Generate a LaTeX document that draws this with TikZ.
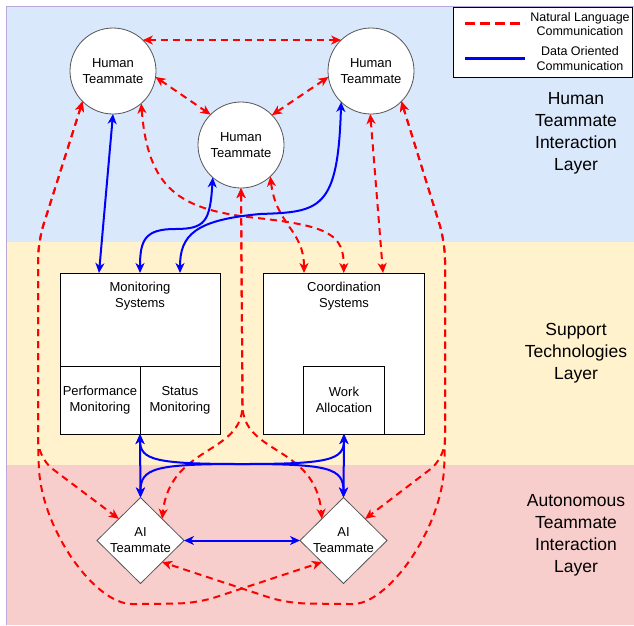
\documentclass[tikz,border=0pt]{standalone}
\usepackage{fontspec}
\setmainfont{Liberation Sans}
\usetikzlibrary{arrows.meta,shapes.geometric,calc}
\definecolor{bandblue}{HTML}{DAE8FC}
\definecolor{bandyellow}{HTML}{FFF2CC}
\definecolor{bandpink}{HTML}{F8CECC}
\definecolor{bandedge}{HTML}{B9A9D9}
\definecolor{shapeedge}{HTML}{555555}
\tikzset{
  tip/.tip={Stealth[length=10pt,width=9pt,inset=3pt]},
  nl/.style={draw=red, line width=2pt, dash pattern=on 7pt off 5pt, tip-tip},
  data/.style={draw=blue, line width=2pt, tip-tip},
  small/.style={font=\fontsize{13}{16}\selectfont, align=center},
  human/.style={circle, draw=shapeedge, fill=white, line width=0.8pt, minimum size=86pt, inner sep=0pt, outer sep=0pt, small},
  aishape/.style={diamond, draw=shapeedge, fill=white, line width=0.8pt, minimum width=87pt, minimum height=86pt, inner sep=0pt, outer sep=0pt},
  box/.style={rectangle, draw=black, fill=white, line width=0.8pt, inner sep=0pt, outer sep=0pt, small},
  layertext/.style={font=\fontsize{17.5}{22}\selectfont, align=center},
  legendtext/.style={font=\fontsize{12.5}{14.5}\selectfont, align=center},
}
\begin{document}
\begin{tikzpicture}[x=1pt,y=-1pt]
\useasboundingbox (0,0) rectangle (634,625);
% bands
\fill[bandblue] (6,6) rectangle (634,242);
\fill[bandyellow] (6,242) rectangle (634,465);
\fill[bandpink] (6,465) rectangle (634,625);
\draw[bandedge, line width=1pt] (6.5,625) -- (6.5,6.5) -- (634,6.5);

% layer labels
\node[layertext] (lay1) at (576,133) {Human\\Teammate\\Interaction\\Layer};
\node[layertext] (lay2) at (576,353.5) {Support\\Technologies\\Layer};
\node[layertext] (lay3) at (576,535) {Autonomous\\Teammate\\Interaction\\Layer};

% legend
\node[draw=black, fill=white, line width=0.8pt, minimum width=179pt, minimum height=70pt, inner sep=0pt] (legend) at (542.5,42) {};
\coordinate (lr1) at (465,23);
\coordinate (lr2) at (525,23);
\coordinate (lb1) at (465,58);
\coordinate (lb2) at (525,58);
\draw[red, line width=3pt, dash pattern=on 10pt off 5pt] (lr1) -- (lr2);
\draw[blue, line width=3pt] (lb1) -- (lb2);
\node[legendtext] (legnl) at (580,24) {Natural Language\\Communication};
\node[legendtext] (legdo) at (580,58.5) {Data Oriented\\Communication};

% humans
\node[human] (h1) at (113,71) {Human\\Teammate};
\node[human] (h3) at (371,71) {Human\\Teammate};
\node[human] (h2) at (241,145) {Human\\Teammate};

% support boxes
\node[box, minimum width=160pt, minimum height=161pt] (mon) at (140,353.5) {};
\node[small] (montext) at (140,296) {Monitoring\\Systems};
\node[box, minimum width=80pt, minimum height=68pt] (perf) at (100,400) {Performance\\Monitoring};
\node[box, minimum width=80pt, minimum height=68pt] (stat) at (180,400) {Status\\Monitoring};
\node[box, minimum width=160.5pt, minimum height=161pt] (coord) at (343.75,353.5) {};
\node[small] (coordtext) at (344,296) {Coordination\\Systems};
\node[box, minimum width=81pt, minimum height=68pt] (work) at (344,400) {Work\\Allocation};

% AI teammates
\node[aishape] (ai1) at (140.5,540.5) {};
\node[small] (ai1t) at (ai1) {AI\\Teammate};
\node[aishape] (ai2) at (343.5,540.5) {};
\node[small] (ai2t) at (ai2) {AI\\Teammate};

% endpoints on box tops
\coordinate (monA) at ($(mon.north west)+(39,0)$);
\coordinate (monC) at ($(mon.north west)+(120,0)$);
\coordinate (coA) at ($(coord.north west)+(40.5,0)$);
\coordinate (coC) at ($(coord.north east)+(-41,0)$);

% natural language connectors
\draw[nl] (h1.46) -- (h3.134);
\draw[nl] (h1.-8) -- (h2.135);
\draw[nl] (h3.188) -- (h2.44);
\draw[nl, rounded corners=18pt] (h1.225) -- (38,242) -- (38,458) -- (ai1.135);
\draw[nl, rounded corners=18pt] (h1.225) -- (38,242) -- (38,450) .. controls (42,530) and (95,604) .. (150,604) -- (198,603) -- (ai2.225);
\draw[nl, rounded corners=18pt] (h3.-45) -- (445,242) -- (445,458) -- (ai2.45);
\draw[nl, rounded corners=18pt] (h3.-45) -- (445,242) -- (445,450) .. controls (441,530) and (388,604) .. (335,604) -- (286,603) -- (ai1.-45);
\draw[nl] (h2.-90) -- (242.5,405) .. controls (242.5,455) and (170,445) .. (ai1.45);
\draw[nl] (h2.-90) -- (242.5,405) .. controls (242.5,455) and (316,445) .. (ai2.135);
\draw[nl] (h1.-49) .. controls (148,190) and (180,210) .. (257,218) .. controls (330,226) and (344,235) .. (coord.north);
\draw[nl] (h2.-47) .. controls (276,225) and (304,230) .. (coA);
\draw[nl] (h3.-91) -- (coC);

% data oriented connectors
\draw[data] (h1.-90) -- (monA);
\draw[data] (h2.229) .. controls (210,222) and (205,229) .. (175,229) .. controls (145,229) and (140,240) .. (mon.north);
\draw[data] (h3.226) .. controls (338,210) and (320,212) .. (260,214) .. controls (195,220) and (180,235) .. (monC);
\draw[data] (mon.south) -- (ai1.north);
\draw[data] (work.south) -- (ai2.north);
\draw[data] (mon.south) .. controls (140,460) and (155,464) .. (242,464) .. controls (329,464) and (343.5,468) .. (ai2.north);
\draw[data] (work.south) .. controls (344,460) and (329,464) .. (242,464) .. controls (155,464) and (140.5,468) .. (ai1.north);
\draw[data] (ai1.east) -- (ai2.west);
\end{tikzpicture}
\end{document}
